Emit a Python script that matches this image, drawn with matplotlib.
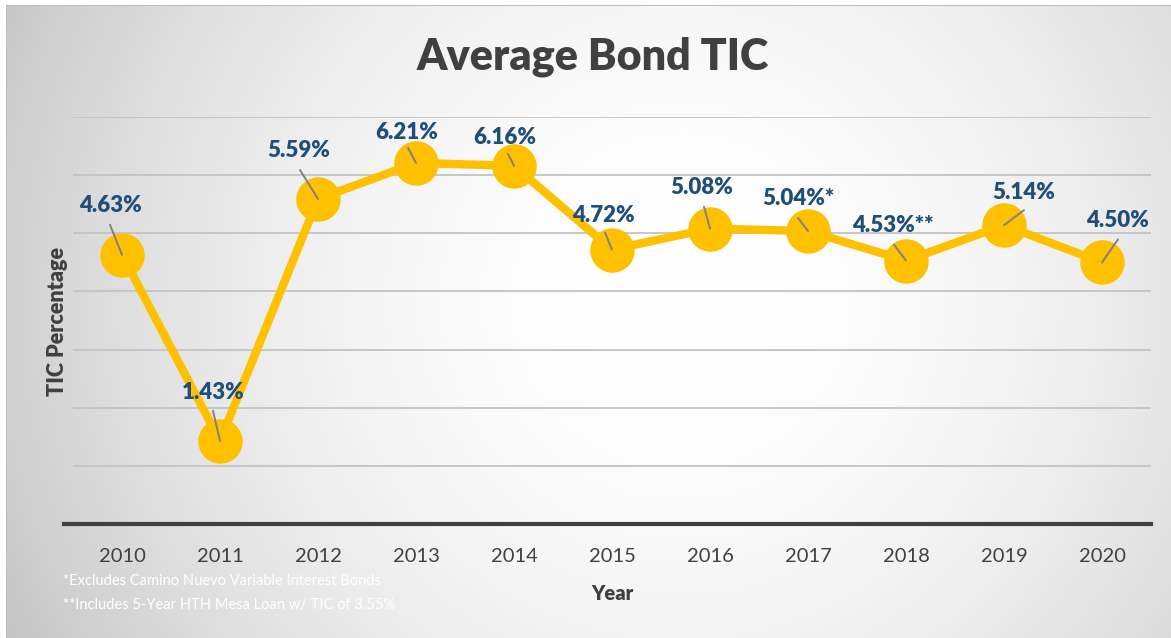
import numpy as np
import matplotlib
matplotlib.use("Agg")
import matplotlib.pyplot as plt

plt.rcParams['font.family'] = ['Lato', 'DejaVu Sans']

years = ['2010', '2011', '2012', '2013', '2014', '2015', '2016', '2017', '2018', '2019', '2020']
tic = [4.63, 1.43, 5.59, 6.21, 6.16, 4.72, 5.08, 5.04, 4.53, 5.14, 4.50]
labels = ['4.63%', '1.43%', '5.59%', '6.21%', '6.16%', '4.72%', '5.08%', '5.04%*', '4.53%**', '5.14%', '4.50%']
footnotes = ['*Excludes Camino Nuevo Variable Interest Bonds',
             '**Includes 5-Year HTH Mesa Loan w/ TIC of 3.55%']

# label offsets (pixels) and leader line start offsets (pixels)
label_off = [(-12, 49), (-7, 48), (-19, 48), (-9, 30), (-9, 28), (-9, 34), (-8, 41), (-10, 32), (-13, 35), (20, 33), (16, 42)]
line_off = [(-12, 30), (-7, 30), (-18, 29), (-8, 15), (-6, 12), (-7, 17), (-6, 22), (-10, 13), (-12, 16), (20, 15), (16, 23)]

W, H = 1171, 638
fig = plt.figure(figsize=(W / 100, H / 100), dpi=100)
fig.patch.set_facecolor('white')

# background radial gradient
bg = fig.add_axes([0, 0, 1, 1], zorder=-10)
yy, xx = np.mgrid[0:H, 0:W]
d = np.sqrt((xx - 680) ** 2 + (yy - 300) ** 2)
g = 1 - 0.22 * (d / 740) ** 2
g = np.clip(g, 0, 1)
img = np.dstack([g, g, g])
img[:5, :, :] = 1.0
img[:, :6, :] = 1.0
img[5, 6:, :] = 0.74
img[5:, 6, :] = 0.74
bg.imshow(img, extent=[0, W, H, 0], aspect='auto', interpolation='bilinear')
bg.set_xlim(0, W)
bg.set_ylim(H, 0)
bg.axis('off')

ax = fig.add_axes([73 / W, 1 - 524 / H, (1151 - 73) / W, (524 - 117) / H])
ax.set_facecolor('none')
x = np.arange(len(years))
ax.set_xlim(-0.5, len(years) - 0.5)
ax.set_ylim(0, 7)
ax.set_yticks(np.arange(1, 8))
ax.yaxis.grid(True, color='#c3c3c3', linewidth=1.3)
ax.set_axisbelow(True)
ax.tick_params(axis='y', left=False, labelleft=False)
ax.tick_params(axis='x', bottom=False, labelsize=14.5, labelcolor='#404040', pad=14)
ax.set_xticks(x)
ax.set_xticklabels(years)
for s in ['top', 'right', 'left']:
    ax.spines[s].set_visible(False)
ax.spines['bottom'].set_color('#404040')
ax.spines['bottom'].set_linewidth(3)
ax.spines['bottom'].set_bounds(-0.59, len(years) - 0.5)

ax.plot(x, tic, color='#FFC000', linewidth=6, marker='o', markersize=32,
        markeredgewidth=0, zorder=3, clip_on=False)

for i, (v, lab) in enumerate(zip(tic, labels)):
    lx, ly = label_off[i]
    sx, sy = line_off[i]
    ax.annotate('', xy=(i, v), xytext=(sx, sy), textcoords='offset pixels',
                arrowprops=dict(arrowstyle='-', color='#808080', lw=1.4,
                                shrinkA=0, shrinkB=0), zorder=5)
    ax.annotate(lab, xy=(i, v), xytext=(lx, ly), textcoords='offset pixels',
                ha='center', va='center', fontsize=16, fontweight='heavy',
                color='#1F4E79', zorder=6)

fig.text(593 / W, 1 - 57 / H, 'Average Bond TIC', ha='center', va='center',
         fontsize=31, fontweight='heavy', color='#404040')
fig.text(57 / W, 1 - 321 / H, 'TIC Percentage', ha='center', va='center',
         rotation=90, fontsize=15.5, fontweight='heavy', color='#404040')
fig.text(612 / W, 1 - 593 / H, 'Year', ha='center', va='center',
         fontsize=14.5, fontweight='heavy', color='#404040')
fig.text(63 / W, 1 - 581 / H, footnotes[0], ha='left', va='center',
         fontsize=10.5, color='white')
fig.text(63 / W, 1 - 605 / H, footnotes[1], ha='left', va='center',
         fontsize=10.5, color='white')

fig.savefig('out.png', dpi=100)
